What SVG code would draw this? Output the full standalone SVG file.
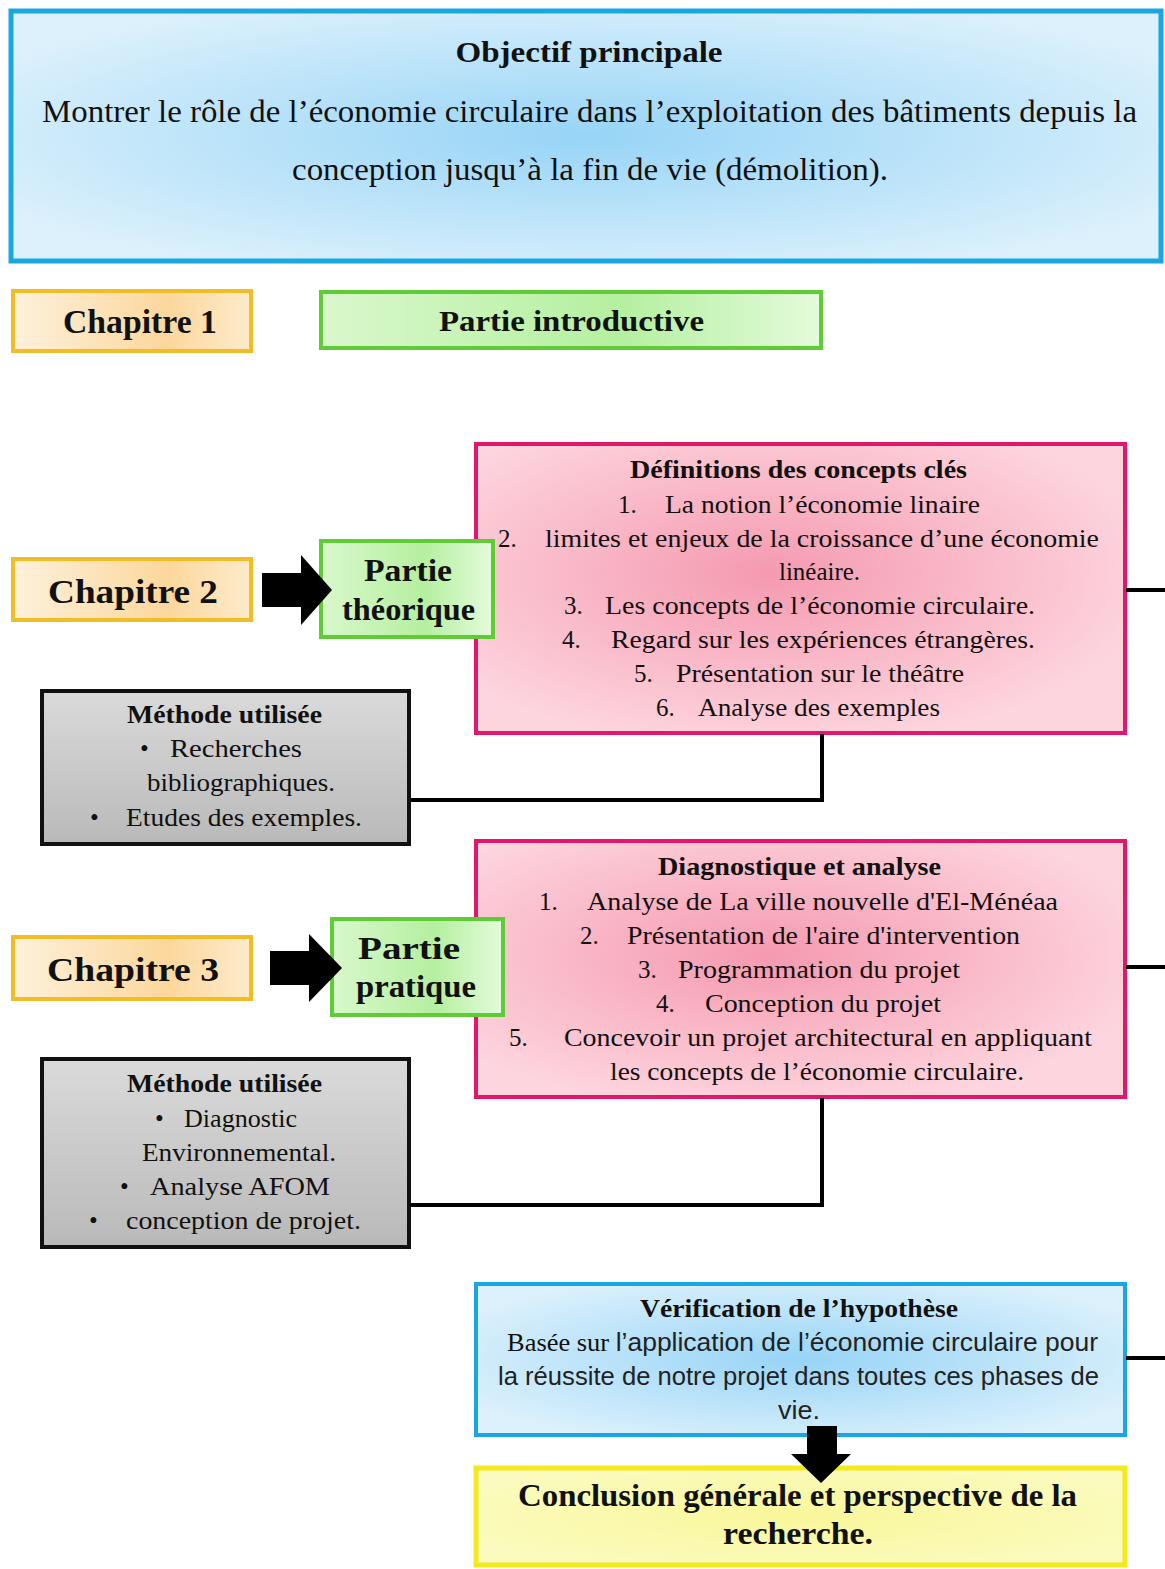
<svg xmlns="http://www.w3.org/2000/svg" width="1165" height="1569" viewBox="0 0 1165 1569">
<style>
.s{font-family:"Liberation Serif","Times New Roman",serif;fill:#111}
.b{font-weight:bold}
.sans{font-family:"Liberation Sans",Arial,sans-serif;fill:#222}
.conn{stroke:#000;stroke-width:4;fill:none}
.blk{fill:#000}
</style>
<defs>
<radialGradient id="gBlue" cx="50%" cy="50%" r="60%"><stop offset="0" stop-color="#97d4f6"/><stop offset="1" stop-color="#ddf1fc"/></radialGradient>
<radialGradient id="gPink" cx="45%" cy="45%" r="60%"><stop offset="0" stop-color="#f59ab0"/><stop offset="1" stop-color="#fdd5de"/></radialGradient>
<linearGradient id="gGreen" x1="0" y1="0" x2="1" y2="0"><stop offset="0" stop-color="#d9f8cc"/><stop offset="0.6" stop-color="#b5efa0"/><stop offset="1" stop-color="#e4fbdb"/></linearGradient>
<linearGradient id="gOrange" x1="0" y1="0" x2="1" y2="0"><stop offset="0" stop-color="#fef1dc"/><stop offset="0.65" stop-color="#fcd79c"/><stop offset="1" stop-color="#fdebcb"/></linearGradient>
<linearGradient id="gGray" x1="0" y1="0" x2="0" y2="1"><stop offset="0" stop-color="#dadada"/><stop offset="1" stop-color="#b9b9b9"/></linearGradient>
<radialGradient id="gYellow" cx="50%" cy="50%" r="60%"><stop offset="0" stop-color="#f9f79a"/><stop offset="1" stop-color="#fbfbc0"/></radialGradient>
</defs>

<g id="objectif">
<rect x="11" y="11" width="1150" height="250" fill="url(#gBlue)" stroke="#1aa5e3" stroke-width="5"/>
<text class="s b" x="589" y="62" font-size="30" text-anchor="middle" textLength="267" lengthAdjust="spacingAndGlyphs">Objectif principale</text>
<text class="s" x="42" y="122" font-size="32" textLength="1095" lengthAdjust="spacingAndGlyphs">Montrer le rôle de l’économie circulaire  dans l’exploitation  des bâtiments depuis la</text>
<text class="s" x="292" y="180" font-size="32" textLength="596" lengthAdjust="spacingAndGlyphs">conception jusqu’à la fin de vie (démolition).</text>
</g>

<g id="chapitre1">
<rect x="13" y="291" width="238" height="60" fill="url(#gOrange)" stroke="#f2bd24" stroke-width="4"/>
<text class="s b" x="63" y="333" font-size="34" textLength="154" lengthAdjust="spacingAndGlyphs">Chapitre  1</text>
</g>
<g id="partie-intro">
<rect x="321" y="292" width="500" height="56" fill="url(#gGreen)" stroke="#5fcb36" stroke-width="4"/>
<text class="s b" x="439" y="331" font-size="30" textLength="265" lengthAdjust="spacingAndGlyphs">Partie introductive</text>
</g>

<g id="definitions">
<rect x="476" y="444" width="649" height="289" fill="url(#gPink)" stroke="#e2166b" stroke-width="4"/>
<text class="s b" x="630" y="478" font-size="25" textLength="337" lengthAdjust="spacingAndGlyphs">Définitions  des concepts clés</text>
<text class="s" x="618" y="513" font-size="25">1.</text>
<text class="s" x="665" y="513" font-size="25" textLength="315" lengthAdjust="spacingAndGlyphs">La notion l’économie  linaire</text>
<text class="s" x="498" y="547" font-size="25">2.</text>
<text class="s" x="545" y="547" font-size="25" textLength="554" lengthAdjust="spacingAndGlyphs">limites  et enjeux  de la croissance  d’une économie</text>
<text class="s" x="779" y="580" font-size="25" textLength="81" lengthAdjust="spacingAndGlyphs">linéaire.</text>
<text class="s" x="564" y="614" font-size="25">3.</text>
<text class="s" x="605" y="614" font-size="25" textLength="430" lengthAdjust="spacingAndGlyphs">Les concepts de l’économie  circulaire.</text>
<text class="s" x="562" y="648" font-size="25">4.</text>
<text class="s" x="611" y="648" font-size="25" textLength="424" lengthAdjust="spacingAndGlyphs">Regard sur les expériences  étrangères.</text>
<text class="s" x="634" y="682" font-size="25">5.</text>
<text class="s" x="676" y="682" font-size="25" textLength="288" lengthAdjust="spacingAndGlyphs">Présentation  sur le théâtre</text>
<text class="s" x="656" y="716" font-size="25">6.</text>
<text class="s" x="698" y="716" font-size="25" textLength="242" lengthAdjust="spacingAndGlyphs">Analyse  des exemples</text>
</g>

<g id="chapitre2">
<rect x="13" y="559" width="238" height="61" fill="url(#gOrange)" stroke="#f2bd24" stroke-width="4"/>
<text class="s b" x="48" y="603" font-size="34" textLength="170" lengthAdjust="spacingAndGlyphs">Chapitre  2</text>
</g>
<g id="partie-theorique">
<rect x="321" y="541" width="172" height="96" fill="url(#gGreen)" stroke="#5fcb36" stroke-width="4"/>
<text class="s b" x="364" y="581" font-size="32" textLength="88" lengthAdjust="spacingAndGlyphs">Partie</text>
<text class="s b" x="342" y="620" font-size="32" textLength="133" lengthAdjust="spacingAndGlyphs">théorique</text>
</g>

<g id="methode1">
<rect x="42" y="691" width="367" height="153" fill="url(#gGray)" stroke="#111" stroke-width="4"/>
<text class="s b" x="127" y="723" font-size="25" textLength="195" lengthAdjust="spacingAndGlyphs">Méthode utilisée</text>
<text class="s" x="140" y="757" font-size="25">•</text>
<text class="s" x="170" y="757" font-size="25" textLength="132" lengthAdjust="spacingAndGlyphs">Recherches</text>
<text class="s" x="147" y="791" font-size="25" textLength="188" lengthAdjust="spacingAndGlyphs">bibliographiques.</text>
<text class="s" x="90" y="826" font-size="25">•</text>
<text class="s" x="126" y="826" font-size="25" textLength="236" lengthAdjust="spacingAndGlyphs">Etudes  des exemples.</text>
</g>

<g id="diagnostique">
<rect x="476" y="841" width="649" height="256" fill="url(#gPink)" stroke="#e2166b" stroke-width="4"/>
<text class="s b" x="658" y="875" font-size="25" textLength="283" lengthAdjust="spacingAndGlyphs">Diagnostique  et analyse</text>
<text class="s" x="539" y="910" font-size="25">1.</text>
<text class="s" x="587" y="910" font-size="25" textLength="471" lengthAdjust="spacingAndGlyphs">Analyse  de La ville  nouvelle  d'El-Ménéaa</text>
<text class="s" x="580" y="944" font-size="25">2.</text>
<text class="s" x="627" y="944" font-size="25" textLength="393" lengthAdjust="spacingAndGlyphs">Présentation  de l'aire  d'intervention</text>
<text class="s" x="638" y="978" font-size="25">3.</text>
<text class="s" x="678" y="978" font-size="25" textLength="282" lengthAdjust="spacingAndGlyphs">Programmation  du projet</text>
<text class="s" x="656" y="1012" font-size="25">4.</text>
<text class="s" x="705" y="1012" font-size="25" textLength="236" lengthAdjust="spacingAndGlyphs">Conception  du projet</text>
<text class="s" x="509" y="1046" font-size="25">5.</text>
<text class="s" x="564" y="1046" font-size="25" textLength="528" lengthAdjust="spacingAndGlyphs">Concevoir  un projet architectural  en appliquant</text>
<text class="s" x="610" y="1080" font-size="25" textLength="414" lengthAdjust="spacingAndGlyphs">les concepts  de l’économie  circulaire.</text>
</g>

<g id="chapitre3">
<rect x="13" y="937" width="238" height="62" fill="url(#gOrange)" stroke="#f2bd24" stroke-width="4"/>
<text class="s b" x="47" y="981" font-size="34" textLength="172" lengthAdjust="spacingAndGlyphs">Chapitre  3</text>
</g>
<g id="partie-pratique">
<rect x="332" y="919" width="171" height="96" fill="url(#gGreen)" stroke="#5fcb36" stroke-width="4"/>
<text class="s b" x="358" y="959" font-size="32" textLength="102" lengthAdjust="spacingAndGlyphs">Partie</text>
<text class="s b" x="356" y="997" font-size="32" textLength="120" lengthAdjust="spacingAndGlyphs">pratique</text>
</g>

<g id="methode2">
<rect x="42" y="1059" width="367" height="188" fill="url(#gGray)" stroke="#111" stroke-width="4"/>
<text class="s b" x="127" y="1092" font-size="25" textLength="195" lengthAdjust="spacingAndGlyphs">Méthode utilisée</text>
<text class="s" x="155" y="1127" font-size="25">•</text>
<text class="s" x="184" y="1127" font-size="25" textLength="113" lengthAdjust="spacingAndGlyphs">Diagnostic</text>
<text class="s" x="142" y="1161" font-size="25" textLength="194" lengthAdjust="spacingAndGlyphs">Environnemental.</text>
<text class="s" x="120" y="1195" font-size="25">•</text>
<text class="s" x="150" y="1195" font-size="25" textLength="180" lengthAdjust="spacingAndGlyphs">Analyse  AFOM</text>
<text class="s" x="89" y="1229" font-size="25">•</text>
<text class="s" x="126" y="1229" font-size="25" textLength="235" lengthAdjust="spacingAndGlyphs">conception  de projet.</text>
</g>

<g id="verification">
<rect x="476" y="1284" width="649" height="151" fill="url(#gBlue)" stroke="#1aa5e3" stroke-width="4"/>
<text class="s b" x="640" y="1317" font-size="25" textLength="318" lengthAdjust="spacingAndGlyphs">Vérification  de l’hypothèse</text>
<text x="507" y="1351" font-size="25" textLength="591" lengthAdjust="spacingAndGlyphs"><tspan class="s">Basée sur </tspan><tspan class="sans">l’application de l’économie circulaire pour</tspan></text>
<text class="sans" x="498" y="1385" font-size="25" textLength="601" lengthAdjust="spacingAndGlyphs">la réussite de notre projet dans toutes ces phases de</text>
<text class="sans" x="778" y="1419" font-size="25" textLength="42" lengthAdjust="spacingAndGlyphs">vie.</text>
</g>

<g id="conclusion">
<rect x="476" y="1468" width="649" height="97" fill="url(#gYellow)" stroke="#f3ea1e" stroke-width="5"/>
<text class="s b" x="518" y="1506" font-size="31" textLength="559" lengthAdjust="spacingAndGlyphs">Conclusion générale et perspective de la</text>
<text class="s b" x="723" y="1544" font-size="31" textLength="150" lengthAdjust="spacingAndGlyphs">recherche.</text>
</g>

<g id="connectors">
<polyline class="conn" points="822,734 822,800 410,800"/>
<line class="conn" x1="1126" y1="590" x2="1165" y2="590"/>
<polyline class="conn" points="822,1098 822,1205 410,1205"/>
<line class="conn" x1="1126" y1="967" x2="1165" y2="967"/>
<line class="conn" x1="1126" y1="1358" x2="1165" y2="1358"/>
<polygon class="blk" points="262,573 301,573 301,555 332,590 301,625 301,607 262,607"/>
<polygon class="blk" points="270,951 309,951 309,934 342,968 309,1002 309,985 270,985"/>
<polygon class="blk" points="807,1426 837,1426 837,1454 851,1454 821,1483 791,1454 807,1454"/>
</g>
</svg>
